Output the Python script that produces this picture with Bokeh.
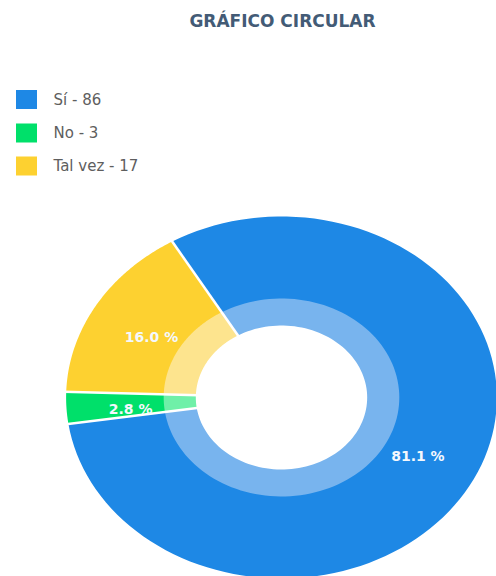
import numpy as np
from bokeh.plotting import figure
from bokeh.models import ColumnDataSource
from bokeh.core.properties import value
from bokeh.embed import file_html
from bokeh.resources import INLINE

# ---- data ----
categories = ["Sí", "No", "Tal vez"]
counts = [86, 3, 17]
colors = ["#1e88e5", "#00e06a", "#fdd130"]
light_colors = ["#78b4ee", "#6ff0a8", "#fde48e"]
title_text = "GRÁFICO CIRCULAR"

# ---- layout constants (pixels) ----
W, H = 496, 576
CX, CY = 281, 397          # pie centre in pixels from top-left
SX = 1.19                  # horizontal stretch of the pie
R_HOLE, R_RING, R_OUT = 72, 99, 181
R_LABEL = 127
START_DEG = 120.5          # first slice starts here, slices go clockwise

p = figure(width=W, height=H, x_range=(-CX, W - CX), y_range=(-(H - CY), CY),
           output_backend="svg", toolbar_location=None, min_border=0,
           background_fill_color="white", border_fill_color="white")
p.axis.visible = False
p.grid.visible = False
p.outline_line_color = None

total = float(sum(counts))
fracs = [c / total for c in counts]
ang = np.deg2rad(START_DEG)
starts, ends = [], []
for f in fracs:
    starts.append(ang)
    ang = ang - f * 2 * np.pi
    ends.append(ang)


def ring_patch(a0, a1, r_in, r_out, n=120):
    t = np.linspace(a0, a1, n)
    xo = SX * r_out * np.cos(t)
    yo = r_out * np.sin(t)
    xi = SX * r_in * np.cos(t[::-1])
    yi = r_in * np.sin(t[::-1])
    return list(np.concatenate([xo, xi])), list(np.concatenate([yo, yi]))


ox, oy, ix, iy = [], [], [], []
for a0, a1 in zip(starts, ends):
    x, y = ring_patch(a0, a1, R_RING - 1, R_OUT)
    ox.append(x); oy.append(y)
    x, y = ring_patch(a0, a1, R_HOLE, R_RING)
    ix.append(x); iy.append(y)

p.patches(xs=ox, ys=oy, fill_color=colors, line_color=None)
p.patches(xs=ix, ys=iy, fill_color=light_colors, line_color=None)

# white separators between slices
sep_x0, sep_y0, sep_x1, sep_y1 = [], [], [], []
for a in starts:
    sep_x0.append(SX * (R_HOLE - 2) * np.cos(a)); sep_y0.append((R_HOLE - 2) * np.sin(a))
    sep_x1.append(SX * (R_OUT + 2) * np.cos(a)); sep_y1.append((R_OUT + 2) * np.sin(a))
p.segment(x0=sep_x0, y0=sep_y0, x1=sep_x1, y1=sep_y1, line_color="white", line_width=2.5)

# percentage labels
mids = [(a0 + a1) / 2 for a0, a1 in zip(starts, ends)]
lab_src = ColumnDataSource(dict(
    x=[SX * R_LABEL * np.cos(m) for m in mids],
    y=[R_LABEL * np.sin(m) - 4 for m in mids],
    t=["%.1f %%" % (100 * f) for f in fracs],
))
p.text(x="x", y="y", text="t", source=lab_src, text_color="#f4f8fd",
       text_font=value("DejaVu Sans"), text_font_style="bold", text_font_size="14px",
       text_align="center", text_baseline="middle")

# title
p.text(x=[282 - CX], y=[CY - 20], text=[title_text], text_color="#435b76",
       text_font=value("DejaVu Sans"), text_font_style="bold", text_font_size="17px",
       text_align="center", text_baseline="middle")

# legend
leg_y = [CY - 99, CY - 132.5, CY - 165.5]
p.rect(x=[26 - CX] * 3, y=leg_y, width=21, height=19, fill_color=colors, line_color=None)
p.text(x=[53 - CX] * 3, y=leg_y, text=["%s - %d" % (c, n) for c, n in zip(categories, counts)],
       text_color="#5e5e5e", text_font=value("DejaVu Sans"), text_font_size="15px",
       text_align="left", text_baseline="middle")

open("out.html", "w").write(file_html(p, INLINE))
